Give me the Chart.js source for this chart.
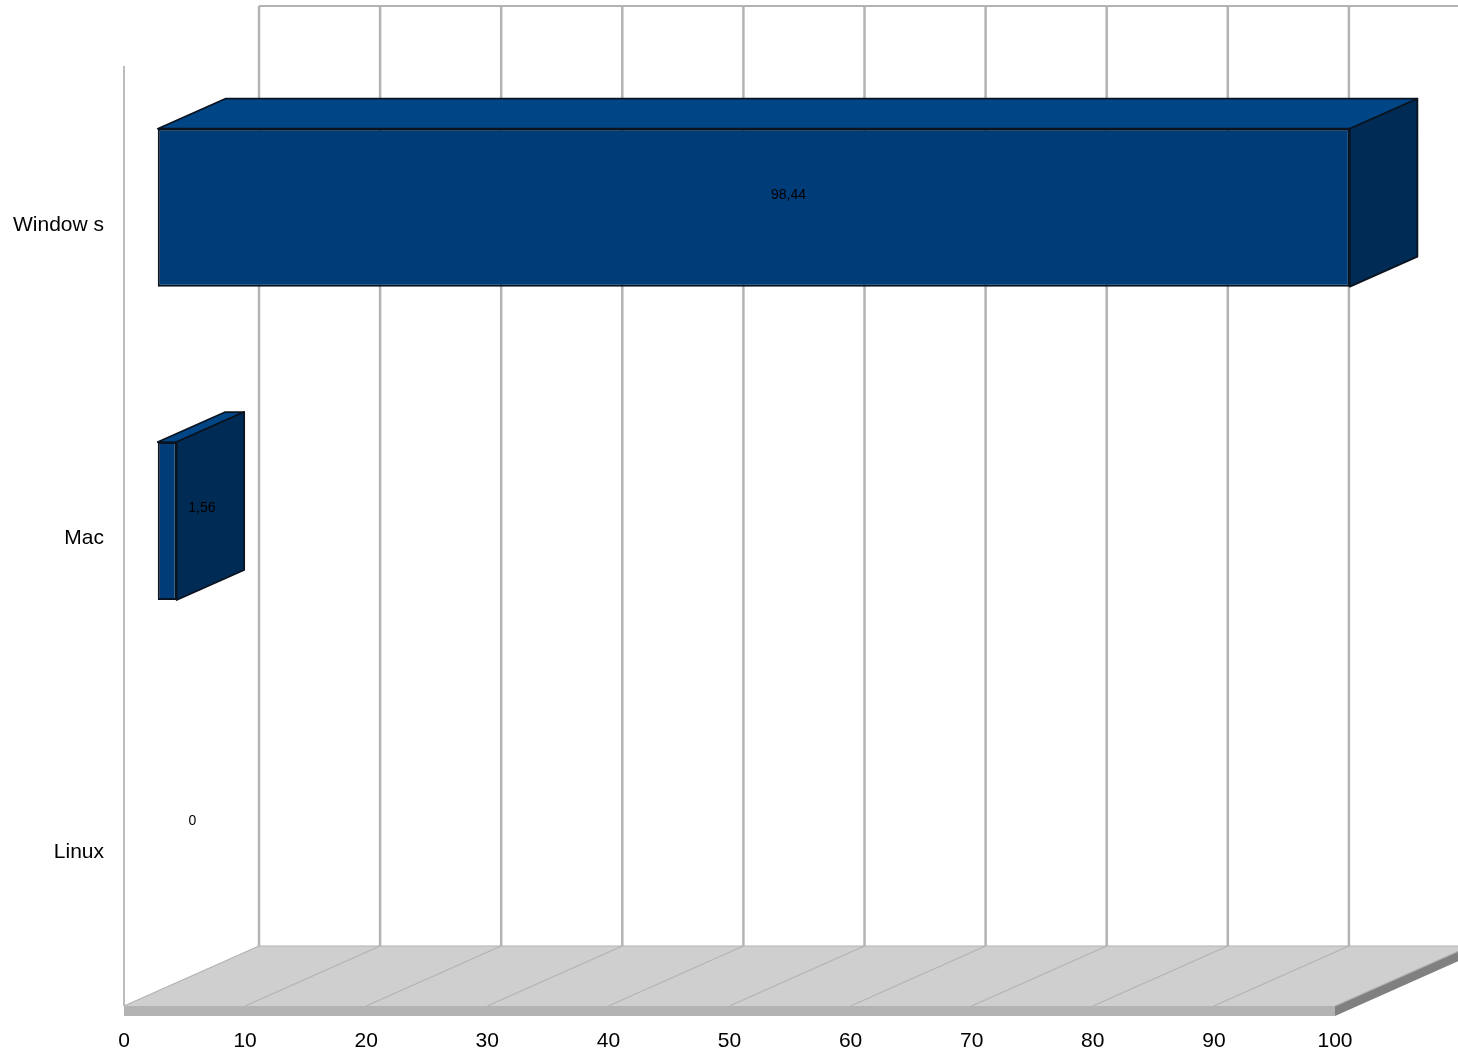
<!DOCTYPE html>
<html>
<head>
<meta charset="utf-8">
<title>Chart</title>
<script src="https://cdn.jsdelivr.net/npm/chart.js@4"></script>
<style>
  html, body { margin: 0; padding: 0; background: #fff; }
  canvas { display: block; }
</style>
</head>
<body>
<canvas id="chart" width="1458" height="1056"></canvas>
<script>
const categories = ["Window s", "Mac", "Linux"];
const shares = [98.44, 1.56, 0];
const shareLabels = ["98,44", "1,56", "0"];
const xTicks = [0, 10, 20, 30, 40, 50, 60, 70, 80, 90, 100];

// the fake 3D box: full floor depth in px, bars sit between 1/4 and 3/4 of it
const DEPTH_X = 135;
const DEPTH_Y = -60;
const BACK_TOP = 6;
const FLOOR_THICK = 10;
const FONT = '"Liberation Sans", Arial, sans-serif';

function poly(ctx, pts, fill, stroke, lw) {
  ctx.beginPath();
  pts.forEach((p, i) => i ? ctx.lineTo(p[0], p[1]) : ctx.moveTo(p[0], p[1]));
  ctx.closePath();
  if (fill) { ctx.fillStyle = fill; ctx.fill(); }
  if (stroke) { ctx.strokeStyle = stroke; ctx.lineWidth = lw || 1; ctx.stroke(); }
}

const box3d = {
  id: "box3d",
  beforeDatasetsDraw(chart) {
    const { ctx, chartArea: a, scales: { x, y } } = chart;
    const backY = a.bottom + DEPTH_Y;
    ctx.save();

    // left edge of the front plane
    ctx.strokeStyle = "#a6a6a6";
    ctx.lineWidth = 1.5;
    ctx.beginPath();
    ctx.moveTo(a.left, a.top);
    ctx.lineTo(a.left, a.bottom);
    ctx.stroke();

    // category labels sit a little under the band centres
    ctx.fillStyle = "#000";
    ctx.font = "21px " + FONT;
    ctx.textAlign = "right";
    ctx.textBaseline = "middle";
    categories.forEach((c, i) => ctx.fillText(c, a.left - 20, y.getPixelForTick(i) + 2.5));

    // back wall
    ctx.strokeStyle = "#b3b3b3";
    ctx.lineWidth = 2.5;
    xTicks.forEach((v) => {
      const px = x.getPixelForValue(v) + DEPTH_X;
      ctx.beginPath();
      ctx.moveTo(px, BACK_TOP);
      ctx.lineTo(px, backY);
      ctx.stroke();
    });
    ctx.lineWidth = 2;
    ctx.beginPath();
    ctx.moveTo(a.left + DEPTH_X, BACK_TOP);
    ctx.lineTo(a.right + DEPTH_X, BACK_TOP);
    ctx.stroke();

    // floor
    poly(ctx, [[a.left, a.bottom], [a.left + DEPTH_X, backY], [a.right + DEPTH_X, backY], [a.right, a.bottom]], "#cfcfcf");
    poly(ctx, [[a.left, a.bottom], [a.right, a.bottom], [a.right, a.bottom + FLOOR_THICK], [a.left, a.bottom + FLOOR_THICK]], "#b3b3b3");
    poly(ctx, [[a.right, a.bottom], [a.right + DEPTH_X, backY], [a.right + DEPTH_X, backY + FLOOR_THICK], [a.right, a.bottom + FLOOR_THICK]], "#808080");

    ctx.strokeStyle = "#b3b3b3";
    ctx.lineWidth = 1.2;
    ctx.beginPath();
    ctx.moveTo(a.left, a.bottom);
    ctx.lineTo(a.left + DEPTH_X, backY);
    ctx.lineTo(a.right + DEPTH_X, backY);
    xTicks.forEach((v) => {
      const px = x.getPixelForValue(v);
      ctx.moveTo(px, a.bottom);
      ctx.lineTo(px + DEPTH_X, backY);
    });
    ctx.stroke();
    ctx.restore();

    // the library's bars are the front faces, pushed a quarter into the box
    ctx.save();
    ctx.translate(DEPTH_X / 4, DEPTH_Y / 4);
  },
  afterDatasetsDraw(chart) {
    const { ctx, scales: { x } } = chart;
    ctx.restore();

    const dx = DEPTH_X / 4, dy = DEPTH_Y / 4;
    const meta = chart.getDatasetMeta(0);
    ctx.save();
    ctx.lineJoin = "round";
    meta.data.forEach((bar, i) => {
      const mid = bar.y;
      if (shares[i] > 0) {
        const x0 = bar.base + dx, x1 = bar.x + dx;
        const y0 = mid - bar.height / 2 + dy, y1 = mid + bar.height / 2 + dy;
        const ox = dx * 2, oy = dy * 2;
        poly(ctx, [[x0, y0], [x1, y0], [x1 + ox, y0 + oy], [x0 + ox, y0 + oy]], "#004586", "#0a1420", 1.8);
        poly(ctx, [[x1, y0], [x1 + ox, y0 + oy], [x1 + ox, y1 + oy], [x1, y1]], "#002b55", "#0a1420", 1.8);
      }
      // value labels float at the middle of the depth
      ctx.fillStyle = "#000";
      ctx.font = "14px " + FONT;
      ctx.textAlign = "center";
      ctx.textBaseline = "middle";
      ctx.fillText(shareLabels[i], x.getPixelForValue(shares[i] / 2) + DEPTH_X / 2 + 1, mid + DEPTH_Y / 2 + 2);
    });
    ctx.restore();
  }
};

new Chart(document.getElementById("chart").getContext("2d"), {
  type: "bar",
  data: {
    labels: categories,
    datasets: [{
      data: shares,
      backgroundColor: "#003c78",
      borderColor: "#0a1420",
      borderWidth: 2,
      borderSkipped: false,
      categoryPercentage: 1,
      barPercentage: 0.504,
      clip: false
    }]
  },
  options: {
    indexAxis: "y",
    responsive: false,
    devicePixelRatio: 1,
    animation: false,
    layout: { padding: { left: 0, top: 66, right: 123, bottom: 0 } },
    plugins: { legend: { display: false }, tooltip: { enabled: false } },
    scales: {
      x: {
        min: 0,
        max: 100,
        border: { display: false },
        grid: { display: false },
        afterFit(scale) { scale.height = 50; },
        ticks: {
          stepSize: 10,
          maxRotation: 0,
          autoSkip: false,
          padding: 15,
          color: "#000",
          font: { family: FONT, size: 21 }
        }
      },
      y: {
        border: { display: false },
        grid: { display: false },
        afterFit(scale) { scale.width = 124; },
        ticks: { display: false }
      }
    }
  },
  plugins: [box3d]
});
</script>
</body>
</html>
